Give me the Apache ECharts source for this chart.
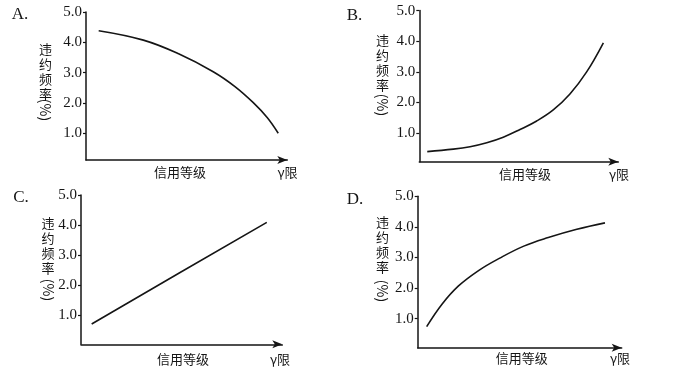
<!DOCTYPE html>
<html>
<head>
<meta charset="utf-8">
<script src="https://cdn.jsdelivr.net/npm/echarts@6/dist/echarts.min.js"></script>
<style>
html,body{margin:0;padding:0;background:#fff;}
#chart{width:684px;height:375px;}
</style>
</head>
<body>
<div id="chart"></div>
<script>
// ---- data ----
const panelLetters = ['A.', 'B.', 'C.', 'D.'];
const xAxisName = '信用等级';
const xAxisEnd = 'γ限';
const yNameChars = '违\n约\n频\n率';
const yNameUnit = '(%)';
const yTicks = [1, 2, 3, 4, 5];

const curveA_x = [6.3, 28.5, 46, 63.2, 74, 83.1, 90, 95.5];
const curveA_y = [4.38, 4.07, 3.62, 3.03, 2.54, 2.01, 1.52, 1.0];
const curveB_x = [4.0, 17.1, 25.5, 33.9, 42.2, 50.6, 59.0, 67.3, 75.7, 84.1, 92.5];
const curveB_y = [0.40, 0.48, 0.56, 0.69, 0.87, 1.12, 1.40, 1.76, 2.28, 3.00, 3.95];
const curveC_x = [5.3, 48.8, 92.3];
const curveC_y = [0.72, 2.41, 4.09];
const curveD_x = [4.4, 12, 20, 30, 40, 52, 64, 78, 91.8];
const curveD_y = [0.74, 1.48, 2.07, 2.58, 2.97, 3.37, 3.65, 3.92, 4.13];

// ---- layout ----
const curves = [
  {x: curveA_x, y: curveA_y, smooth: 0.4},
  {x: curveB_x, y: curveB_y, smooth: 0.4},
  {x: curveC_x, y: curveC_y, smooth: false},
  {x: curveD_x, y: curveD_y, smooth: 0.4}
];
const layout = [
  {grid: {left: 86, top: 11.9, width: 201.3, height: 148.1}, yMin: 0.12,
   letter: [20, 15], xName: [180, 172.5], xEnd: [287.5, 172.5], yName: [45.5, 49], unit: [45.5, 110]},
  {grid: {left: 419.3, top: 10.6, width: 199, height: 151.1}, yMin: 0.07,
   letter: [354.5, 16], xName: [525, 174], xEnd: [619, 174], yName: [382.5, 40], unit: [382.5, 105]},
  {grid: {left: 81, top: 195, width: 201.3, height: 149.3}, yMin: 0.045,
   letter: [21, 198], xName: [183, 359], xEnd: [280, 359], yName: [48, 223], unit: [48, 290]},
  {grid: {left: 417.7, top: 196.2, width: 204, height: 151.5}, yMin: 0.054,
   letter: [355, 200], xName: [521.7, 358], xEnd: [620, 358], yName: [382.5, 222], unit: [382.5, 291]}
];

const INK = '#151515';
const serif = '"Liberation Serif", "DejaVu Serif", serif';
const cjk = '"Noto Sans CJK SC", "Noto Sans", sans-serif';

const grids = [], xAxes = [], yAxes = [], series = [], graphics = [];
layout.forEach((L, i) => {
  grids.push(Object.assign({containLabel: false}, L.grid));
  xAxes.push({
    type: 'value', gridIndex: i, min: 0, max: 100,
    axisLine: {show: true, onZero: false, symbol: ['none', 'arrow'], symbolSize: [6, 10],
      lineStyle: {color: INK, width: 1.5}},
    axisTick: {show: false}, axisLabel: {show: false}, splitLine: {show: false}
  });
  yAxes.push({
    type: 'value', gridIndex: i, min: L.yMin, max: 5,
    axisLine: {show: true, onZero: false, lineStyle: {color: INK, width: 1.5}},
    axisTick: {show: true, inside: false, length: 3, customValues: yTicks, lineStyle: {color: INK, width: 1.2}},
    axisLabel: {show: true, customValues: yTicks, margin: 4, formatter: v => Number(v).toFixed(1),
      fontFamily: serif, fontSize: 15, color: INK},
    splitLine: {show: false}
  });
  const c = curves[i];
  series.push({
    type: 'line', xAxisIndex: i, yAxisIndex: i, smooth: c.smooth, symbol: 'none',
    lineStyle: {color: INK, width: 1.6},
    data: c.x.map((xv, k) => [xv, c.y[k]])
  });
  graphics.push(
    {type: 'text', x: L.letter[0], y: L.letter[1],
     style: {text: panelLetters[i], font: '17px ' + serif, fill: INK, align: 'center', verticalAlign: 'middle'}},
    {type: 'text', x: L.xName[0], y: L.xName[1],
     style: {text: xAxisName, font: '13px ' + cjk, fill: INK, align: 'center', verticalAlign: 'middle'}},
    {type: 'text', x: L.xEnd[0], y: L.xEnd[1],
     style: {text: xAxisEnd, font: '13px ' + cjk, fill: INK, align: 'center', verticalAlign: 'middle'}},
    {type: 'text', x: L.yName[0], y: L.yName[1] - 7.5,
     style: {text: yNameChars, font: '13px ' + cjk, lineHeight: 15, fill: INK, align: 'center', verticalAlign: 'top'}},
    {type: 'text', x: L.unit[0], y: L.unit[1], rotation: -Math.PI / 2,
     style: {text: yNameUnit, font: '14px ' + cjk, fill: INK, align: 'center', verticalAlign: 'middle'}}
  );
});

const chart = echarts.init(document.getElementById('chart'), null, {renderer: 'canvas'});
chart.setOption({
  animation: false,
  backgroundColor: '#ffffff',
  grid: grids, xAxis: xAxes, yAxis: yAxes, series: series,
  graphic: graphics
});
</script>
</body>
</html>
